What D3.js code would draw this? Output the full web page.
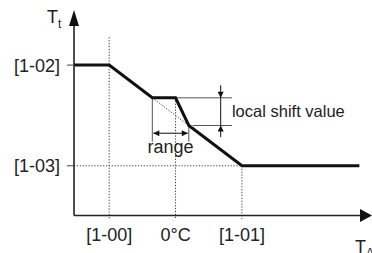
<!DOCTYPE html>
<html>
<head>
<meta charset="utf-8">
<script src="https://cdn.jsdelivr.net/npm/d3@7"></script>
<style>
  body { margin: 0; background: #fff; }
  text { font-family: "Liberation Sans", Arial, sans-serif; fill: #222; }
</style>
</head>
<body>
<svg width="372" height="253"></svg>
<script>
// heating curve: outdoor temp (x) -> target temp (y)
const curveX = [-15.3, -10, -3.5, 0, 2, 10, 27.7];
const curveY = [55, 55, 45.25, 45.25, 37, 25, 25];

const tickX = [-10, 0, 10];
const tickXLabels = ["[1-00]", "0°C", "[1-01]"];
const tickY = [55, 25];
const tickYLabels = ["[1-02]", "[1-03]"];

// annotation: range and local shift
const rangeStart = -3.5, rangeEnd = 2;
const shiftTop = 45.25, shiftBottom = 37;

const svg = d3.select("svg");

const x = d3.scaleLinear().domain([-15.3, 29.6]).range([74, 372]);
const y = d3.scaleLinear().domain([10.2, 71.4]).range([215.5, 10]);

const dotted = "1.3,1.6";
const grey = "#555";

// dotted guide lines
svg.append("line")
  .attr("x1", x(-10)).attr("x2", x(-10))
  .attr("y1", y(63.3)).attr("y2", y(9.2))
  .attr("stroke", "#444").attr("stroke-dasharray", dotted);
svg.append("line")
  .attr("x1", x(0)).attr("x2", x(0))
  .attr("y1", y(45.25)).attr("y2", y(9.2))
  .attr("stroke", "#444").attr("stroke-dasharray", dotted);
svg.append("line")
  .attr("x1", x(10)).attr("x2", x(10))
  .attr("y1", y(25)).attr("y2", y(9.2))
  .attr("stroke", "#444").attr("stroke-dasharray", dotted);
svg.append("line")
  .attr("x1", x(-15.3)).attr("x2", x(10))
  .attr("y1", y(25)).attr("y2", y(25))
  .attr("stroke", "#444").attr("stroke-dasharray", dotted);
// original curve (dotted) under the shift
svg.append("line")
  .attr("x1", x(rangeStart)).attr("x2", x(rangeEnd))
  .attr("y1", y(shiftTop)).attr("y2", y(shiftBottom))
  .attr("stroke", "#444").attr("stroke-dasharray", dotted);

// range markers
const rangeLow = 32.2, rangeArrowY = 34.7;
[rangeStart, rangeEnd].forEach(v => {
  svg.append("line")
    .attr("x1", x(v)).attr("x2", x(v))
    .attr("y1", y(v === rangeStart ? shiftTop : shiftBottom)).attr("y2", y(rangeLow))
    .attr("stroke", grey).attr("stroke-width", 1);
});

svg.append("defs").append("marker")
  .attr("id", "ah")
  .attr("viewBox", "0 0 10 10")
  .attr("refX", 10).attr("refY", 5)
  .attr("markerWidth", 7).attr("markerHeight", 6)
  .attr("markerUnits", "userSpaceOnUse")
  .attr("orient", "auto-start-reverse")
  .append("path").attr("d", "M0,0L10,5L0,10z").attr("fill", "#111");

svg.append("line")
  .attr("x1", x(rangeStart) + 1).attr("x2", x(rangeEnd) - 1)
  .attr("y1", y(rangeArrowY)).attr("y2", y(rangeArrowY))
  .attr("stroke", "#111").attr("stroke-width", 1)
  .attr("marker-start", "url(#ah)").attr("marker-end", "url(#ah)");

svg.append("text")
  .attr("x", x((rangeStart + rangeEnd) / 2)).attr("y", 153)
  .attr("text-anchor", "middle").attr("font-size", 18)
  .text("range");

// local shift markers
const shiftEnd = 8.5, shiftArrowX = 6.8;
svg.append("line")
  .attr("x1", x(0)).attr("x2", x(shiftEnd))
  .attr("y1", y(shiftTop)).attr("y2", y(shiftTop))
  .attr("stroke", grey).attr("stroke-width", 1);
svg.append("line")
  .attr("x1", x(2.6)).attr("x2", x(shiftEnd))
  .attr("y1", y(shiftBottom)).attr("y2", y(shiftBottom))
  .attr("stroke", grey).attr("stroke-width", 1);
svg.append("line")
  .attr("x1", x(shiftArrowX)).attr("x2", x(shiftArrowX))
  .attr("y1", y(49)).attr("y2", y(shiftTop))
  .attr("stroke", "#111").attr("stroke-width", 1)
  .attr("marker-end", "url(#ah)");
svg.append("line")
  .attr("x1", x(shiftArrowX)).attr("x2", x(shiftArrowX))
  .attr("y1", y(shiftTop)).attr("y2", y(shiftBottom))
  .attr("stroke", "#111").attr("stroke-width", 1);
svg.append("line")
  .attr("x1", x(shiftArrowX)).attr("x2", x(shiftArrowX))
  .attr("y1", y(33.55)).attr("y2", y(shiftBottom))
  .attr("stroke", "#111").attr("stroke-width", 1)
  .attr("marker-end", "url(#ah)");

svg.append("text")
  .attr("x", x(shiftEnd)).attr("y", 116.5)
  .attr("font-size", 16.5)
  .text("local shift value");

// main curve
const line = d3.line().x(d => x(d[0])).y(d => y(d[1]));
svg.append("path")
  .datum(d3.zip(curveX, curveY))
  .attr("fill", "none")
  .attr("stroke", "#111")
  .attr("stroke-width", 3)
  .attr("stroke-linejoin", "miter")
  .attr("d", line);

// axes
const x0 = x(-15.3), y0 = y(10.2);
svg.append("line")
  .attr("x1", x0).attr("x2", 361).attr("y1", y0).attr("y2", y0)
  .attr("stroke", "#222").attr("stroke-width", 1.6);
svg.append("line")
  .attr("x1", x0).attr("x2", x0).attr("y1", y0).attr("y2", 24)
  .attr("stroke", "#222").attr("stroke-width", 1.6);
svg.append("path")
  .attr("d", `M372,${y0}L360,${y0 - 6.5}L360,${y0 + 6.5}Z`)
  .attr("fill", "#111");
svg.append("path")
  .attr("d", `M${x0},10L${x0 - 5},26L${x0 + 5},26Z`)
  .attr("fill", "#111");

// y ticks
tickY.forEach((v, i) => {
  svg.append("line")
    .attr("x1", x0 - 7).attr("x2", x0)
    .attr("y1", y(v)).attr("y2", y(v))
    .attr("stroke", "#444").attr("stroke-width", 1);
  svg.append("text")
    .attr("x", 60).attr("y", y(v) + 6.5)
    .attr("text-anchor", "end").attr("font-size", 18)
    .text(tickYLabels[i]);
});

// x ticks
tickX.forEach((v, i) => {
  svg.append("text")
    .attr("x", x(v)).attr("y", 241)
    .attr("text-anchor", "middle").attr("font-size", 18)
    .text(tickXLabels[i]);
});

// axis titles
const tt = svg.append("text").attr("x", 47).attr("y", 23).attr("font-size", 18);
tt.append("tspan").text("T");
tt.append("tspan").attr("font-size", 12).attr("dy", 5).text("t");

const ta = svg.append("text").attr("x", 355).attr("y", 253).attr("font-size", 18);
ta.append("tspan").text("T");
ta.append("tspan").attr("font-size", 12).attr("dy", 4).text("A");
</script>
</body>
</html>
